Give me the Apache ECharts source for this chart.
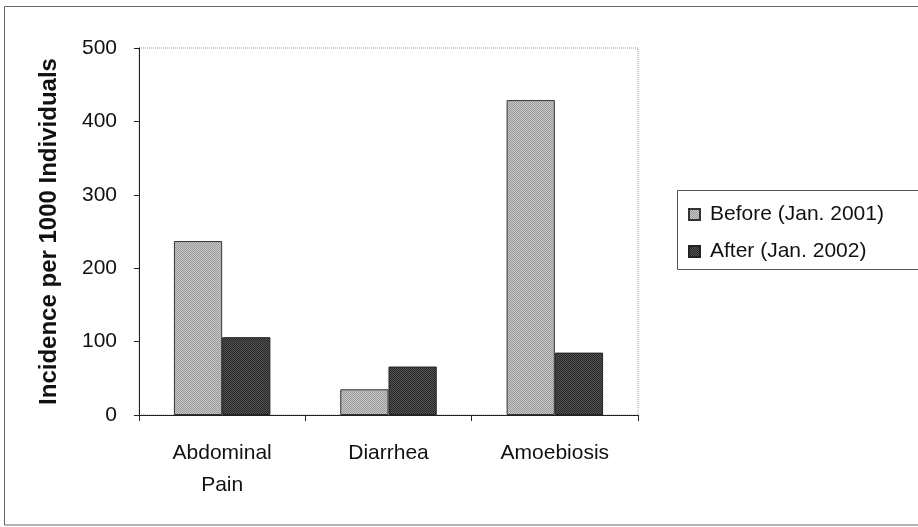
<!DOCTYPE html>
<html><head><meta charset="utf-8">
<script src="https://cdn.jsdelivr.net/npm/echarts@6/dist/echarts.min.js"></script>
<style>html,body{margin:0;padding:0;background:#fff}#c{width:918px;height:527px}</style>
</head><body><div id="c"></div>
<script>
const categories = ['Abdominal\nPain', 'Diarrhea', 'Amoebiosis'];
const beforeVals = [237, 35, 429];
const afterVals = [106, 66, 85];
const seriesNames = ['Before (Jan. 2001)', 'After (Jan. 2002)'];
const yTicks = {min: 0, max: 500, interval: 100};

function pattern(a, b) {
  const c = document.createElement('canvas');
  c.width = 2; c.height = 2;
  const g = c.getContext('2d');
  g.fillStyle = a; g.fillRect(0, 0, 2, 2);
  g.fillStyle = b; g.fillRect(0, 0, 1, 1); g.fillRect(1, 1, 1, 1);
  return c;
}
const font = "'Liberation Sans', Arial, sans-serif";
const chart = echarts.init(document.getElementById('c'), null, {renderer: 'canvas'});
chart.setOption({
  animation: false,
  backgroundColor: '#fff',
  graphic: [
    {type: 'rect', shape: {x: 4.5, y: 6.5, width: 930, height: 518.5}, style: {fill: 'none', stroke: '#666', lineWidth: 1}, silent: true, z: -10},
    {type: 'rect', shape: {x: 677.5, y: 190.5, width: 260, height: 79}, style: {fill: '#fff', stroke: '#555', lineWidth: 1}, silent: true, z: 0}
  ],
  grid: {left: 139, right: 280, top: 48, bottom: 112, show: true, borderColor: '#999', borderType: 'dotted', borderWidth: 1, backgroundColor: 'transparent'},
  legend: {
    orient: 'vertical', left: 688, top: 204, padding: 0, itemWidth: 11, itemHeight: 11, itemGap: 16,
    textStyle: {fontFamily: font, fontSize: 21, lineHeight: 21, color: '#111', padding: [0, 0, 0, 5]},
    data: seriesNames.map(n => ({name: n, icon: 'rect'}))
  },
  xAxis: {
    type: 'category', data: categories,
    axisLine: {lineStyle: {color: '#222', width: 1}},
    axisTick: {show: true, length: 6, lineStyle: {color: '#222'}},
    axisLabel: {fontFamily: font, fontSize: 21, color: '#111', margin: 22, lineHeight: 32}
  },
  yAxis: {
    type: 'value', min: yTicks.min, max: yTicks.max, interval: yTicks.interval,
    name: 'Incidence per 1000 Individuals', nameLocation: 'middle', nameGap: 78,
    nameTextStyle: {fontFamily: font, fontSize: 24, fontWeight: 'bold', color: '#111'},
    axisLine: {show: true, lineStyle: {color: '#222', width: 1}},
    axisTick: {show: true, length: 5, lineStyle: {color: '#222'}},
    splitLine: {show: false},
    axisLabel: {fontFamily: font, fontSize: 21, color: '#111', margin: 22}
  },
  series: [
    {name: seriesNames[0], type: 'bar', data: beforeVals, barGap: '0%', barCategoryGap: '42%',
     itemStyle: {color: {image: pattern('#c8c8c8', '#9a9a9a'), repeat: 'repeat'}, borderColor: '#333', borderWidth: 1}},
    {name: seriesNames[1], type: 'bar', data: afterVals, barGap: '0%', barCategoryGap: '42%',
     itemStyle: {color: {image: pattern('#555555', '#262626'), repeat: 'repeat'}, borderColor: '#222', borderWidth: 1}}
  ]
});
</script></body></html>
